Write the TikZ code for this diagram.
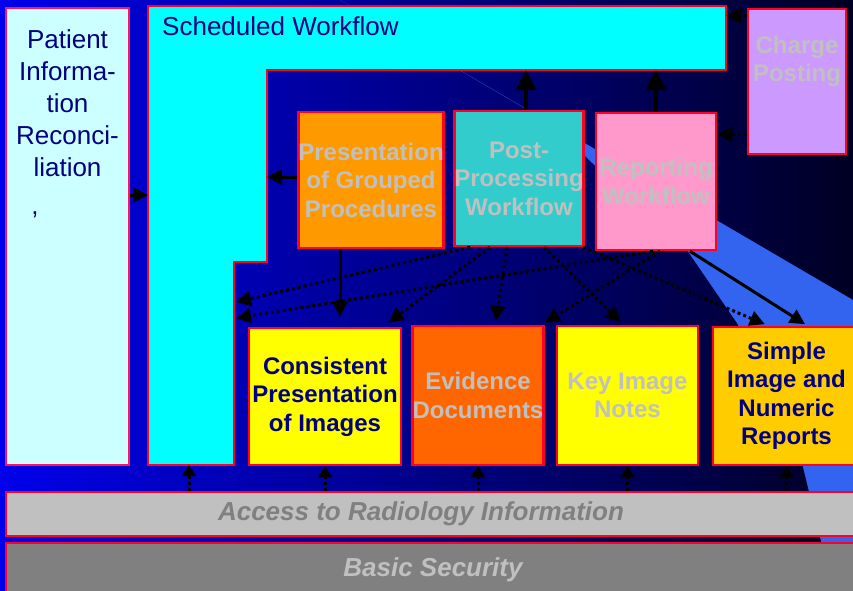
\documentclass[tikz,border=0pt]{standalone}
\usepackage{fontspec}
\setmainfont{Liberation Sans}
\usetikzlibrary{arrows.meta}

\definecolor{bgleft}{RGB}{0,0,235}
\definecolor{bgright}{RGB}{0,0,35}
\definecolor{beamblue}{RGB}{50,100,240}
\definecolor{boxred}{RGB}{255,0,40}
\definecolor{pirred}{RGB}{255,20,90}
\definecolor{navytext}{RGB}{0,0,128}
\definecolor{silvertext}{RGB}{192,192,192}
\definecolor{greytext}{RGB}{128,128,128}
\definecolor{palecyan}{RGB}{204,255,255}
\definecolor{cyanbox}{RGB}{0,255,255}
\definecolor{lavender}{RGB}{204,153,255}
\definecolor{orangebox}{RGB}{255,153,0}
\definecolor{tealbox}{RGB}{51,204,204}
\definecolor{pinkbox}{RGB}{255,153,204}
\definecolor{yellowbox}{RGB}{255,255,0}
\definecolor{darkorange}{RGB}{255,102,0}
\definecolor{goldbox}{RGB}{255,204,0}
\definecolor{silverbox}{RGB}{192,192,192}
\definecolor{greybox}{RGB}{128,128,128}

\tikzset{
  box/.style={draw=boxred, line width=2.5pt, inner sep=0pt, align=center},
  plainlabel/.style={text=navytext, font=\fontsize{26}{32}\selectfont, inner sep=0pt, align=center},
  bluelabel/.style={text=navytext, font=\fontsize{24}{28.5}\selectfont\bfseries},
  greylabel/.style={text=silvertext, font=\fontsize{24}{28.5}\selectfont\bfseries},
  barlabel/.style={font=\fontsize{26}{31}\selectfont\bfseries\itshape},
  solidarrow/.style={line width=3pt, -{Triangle[width=15pt,length=15pt]}},
  bigarrow/.style={line width=4.5pt, -{Triangle[width=20pt,length=20pt]}},
  dotarrow/.style={line width=3pt, dash pattern=on 3pt off 3pt, -{Triangle[width=15pt,length=15pt]}},
  uparrow/.style={line width=3pt, dash pattern=on 3pt off 3pt, -{Triangle[width=14pt,length=11pt]}},
}

\begin{document}
\begin{tikzpicture}[x=1pt, y=-1pt]
  \useasboundingbox (0,0) rectangle (853,590);
  \shade[left color=bgleft, right color=bgright] (0,0) rectangle (853,590);
  \fill[beamblue] (340,0) -- (853,300) -- (853,545) -- (822,545) -- (803,467) -- (737,323) -- (687,250) -- (589,160) -- (560,129) -- cycle;

  \node[box, draw=pirred, fill=palecyan, minimum width=123pt, minimum height=457pt] (pir) at (67.5,236.5) {};
  \node[plainlabel, anchor=north] (pirtext) at ([yshift=-23pt]pir.north) {Patient\\Informa-\\tion\\Reconci-\\liation};
  \node[plainlabel, anchor=base] (pircomma) at (35,214) {,};

  \coordinate (s1) at (148,6);
  \coordinate (s2) at (726,6);
  \coordinate (s3) at (726,70);
  \coordinate (s4) at (267,70);
  \coordinate (s5) at (267,262);
  \coordinate (s6) at (234,262);
  \coordinate (s7) at (234,465);
  \coordinate (s8) at (148,465);
  \draw[draw=boxred, line width=2.5pt, fill=cyanbox] (s1) -- (s2) -- (s3) -- (s4) -- (s5) -- (s6) -- (s7) -- (s8) -- cycle;
  \node[plainlabel, anchor=base west] (schtext) at (162,35) {Scheduled Workflow};
  \coordinate (schw) at (148,195);
  \coordinate (sa) at (236,302);
  \coordinate (sb) at (236,318);
  \coordinate (sc) at (189,465);

  \node[box, fill=lavender, minimum width=98pt, minimum height=145pt] (cp) at (797,81.5) {};
  \node[greylabel, anchor=north, align=center, inner sep=0pt] (cptext) at ([yshift=-28pt]cp.north) {Charge\\Posting};

  \node[box, greylabel, fill=orangebox, minimum width=142pt, minimum height=136pt] (pgp) at (371,180) {Presentation\\of Grouped\\Procedures};
  \node[box, greylabel, fill=tealbox, minimum width=126pt, minimum height=135pt] (ppw) at (519,178.5) {Post-\\Processing\\Workflow};
  \node[box, greylabel, fill=pinkbox, minimum width=120pt, minimum height=137pt] (rw) at (656,181.5) {Reporting\\Workflow};

  \node[box, bluelabel, fill=yellowbox, minimum width=152pt, minimum height=137pt] (cpi) at (325,396.5) {Consistent\\Presentation\\of Images};
  \node[box, greylabel, fill=darkorange, minimum width=130pt, minimum height=139pt] (ed) at (478,395.5) {Evidence\\Documents};
  \node[box, greylabel, fill=yellowbox, minimum width=141pt, minimum height=139pt] (kin) at (627.5,395.5) {Key Image\\Notes};
  \node[box, bluelabel, fill=goldbox, minimum width=147pt, minimum height=138pt] (sinr) at (786.5,396) {Simple\\Image and\\Numeric\\Reports};

  \node[box, fill=silverbox, minimum width=854pt, minimum height=44pt] (ari) at (433,514) {};
  \node[barlabel, text=greytext] (aritext) at ([xshift=-12pt]ari.center) {Access to Radiology Information};
  \node[box, barlabel, text=silvertext, fill=greybox, minimum width=854pt, minimum height=54pt] (bs) at (433,570) {Basic Security};

  \draw[solidarrow] (pir.east |- schw) -- (schw);
  \coordinate (pgpw) at ([yshift=3pt]pgp.west);
  \draw[solidarrow] (pgpw) -- (pgpw -| s4);
  \coordinate (ppwn) at ([xshift=7pt]ppw.north);
  \draw[bigarrow] (ppwn) -- (ppwn |- s3);
  \draw[bigarrow] (rw.north) -- (rw.north |- s3);
  \coordinate (cpa) at ([yshift=-8pt]cp.north west);
  \draw[dotarrow] (cpa) -- (cpa -| s3);
  \coordinate (cpb) at ([yshift=21pt]cp.south west);
  \draw[dotarrow] (cpb) -- (cpb -| rw.east);

  \coordinate (pgps) at ([xshift=-31pt]pgp.south);
  \draw[solidarrow, shorten >=10pt] (pgps) -- (pgps |- cpi.north);
  \draw[solidarrow, shorten >=3pt] ([xshift=34pt]rw.south) -- ([xshift=21pt]sinr.north);

  \draw[dotarrow] ([xshift=17pt]ppw.south west) -- (sa);
  \draw[dotarrow] ([xshift=-3pt]rw.south) -- (sb);
  \draw[dotarrow, shorten >=7pt] ([xshift=37pt]ppw.south west) -- ([xshift=58pt]cpi.north);
  \draw[dotarrow, shorten >=4pt] ([xshift=54pt]ppw.south west) -- ([xshift=17pt]ed.north);
  \draw[dotarrow, shorten >=4pt] ([xshift=91pt]ppw.south west) -- ([xshift=-4pt]kin.north);
  \draw[dotarrow, shorten >=4pt] ([xshift=4pt]rw.south) -- ([xshift=-3pt]ed.north east);
  \draw[dotarrow, shorten >=4pt] ([xshift=-2pt]ppw.south east) -- ([xshift=-18pt]sinr.north);

  \foreach \b in {sc, cpi.south, ed.south, kin.south, sinr.south}
    \draw[uparrow] (ari.north -| \b) -- (\b);
\end{tikzpicture}
\end{document}
